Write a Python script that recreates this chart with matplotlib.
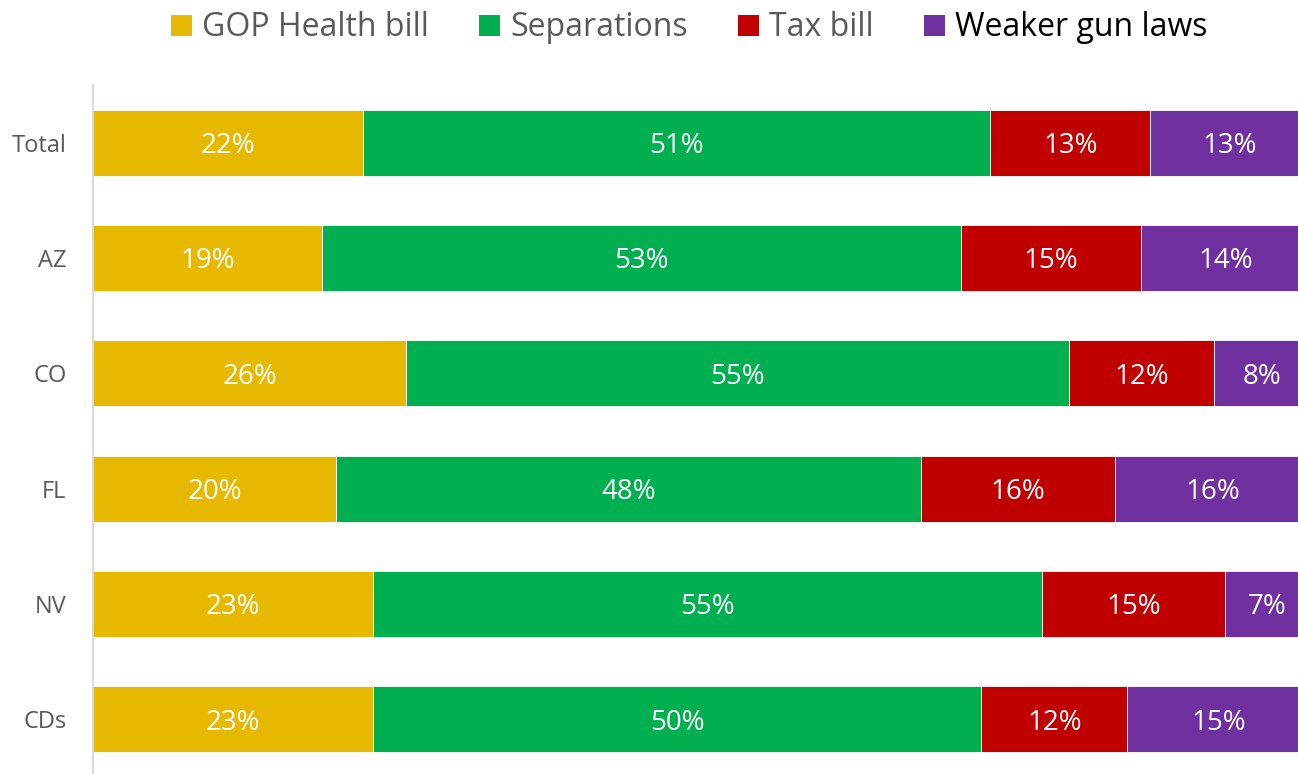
import matplotlib.pyplot as plt
import numpy as np
from matplotlib.patches import Patch

plt.rcParams['font.family'] = ['Open Sans', 'DejaVu Sans']

categories = ['Total', 'AZ', 'CO', 'FL', 'NV', 'CDs']
series = ['GOP Health bill', 'Separations', 'Tax bill', 'Weaker gun laws']
gop = [22, 19, 26, 20, 23, 23]
separations = [51, 53, 55, 48, 55, 50]
tax = [13, 15, 12, 16, 15, 12]
guns = [13, 14, 8, 16, 7, 15]
colors = ['#E6B800', '#00B050', '#C00000', '#7030A0']

vals = np.array([gop, separations, tax, guns], dtype=float)
shares = vals / vals.sum(axis=0)  # 100% stacked

fig = plt.figure(figsize=(12.98, 7.74), dpi=100)
# plot area runs a little past the right edge of the picture (cropped original)
ax = fig.add_axes([93 / 1298, -3 / 774, 1217 / 1298, 692 / 774])

y = np.arange(len(categories))
left = np.zeros(len(categories))
for i, name in enumerate(series):
    ax.barh(y, shares[i], left=left, height=0.57, color=colors[i],
            edgecolor='white', linewidth=0.6, label=name)
    for j in range(len(categories)):
        ax.annotate(f'{int(vals[i][j])}%', (left[j] + shares[i][j] / 2, y[j]),
                    xytext=(0, -2.5), textcoords='offset points',
                    ha='center', va='center', color='white', fontsize=20)
    left += shares[i]

ax.set_xlim(0, 1)
ax.set_ylim(len(categories) - 0.5, -0.5)
ax.set_yticks(y)
ax.set_yticklabels(categories, fontsize=17, color='#595959')
ax.set_xticks([])
ax.tick_params(axis='y', length=0, pad=19)
for s in ['top', 'right', 'bottom']:
    ax.spines[s].set_visible(False)
ax.spines['left'].set_color('#D9D9D9')
ax.spines['left'].set_linewidth(1.5)

handles = [Patch(facecolor=c, edgecolor='none') for c in colors]
leg = fig.legend(handles, series, loc='center', ncol=4, frameon=False,
                 bbox_to_anchor=(689 / 1298, 1 - 28 / 774), fontsize=23,
                 handlelength=0.66, handleheight=0.66, handletextpad=0.31,
                 columnspacing=1.57)
for k, t in enumerate(leg.get_texts()):
    t.set_color('black' if k == 3 else '#595959')

fig.savefig('out.png', dpi=100)
